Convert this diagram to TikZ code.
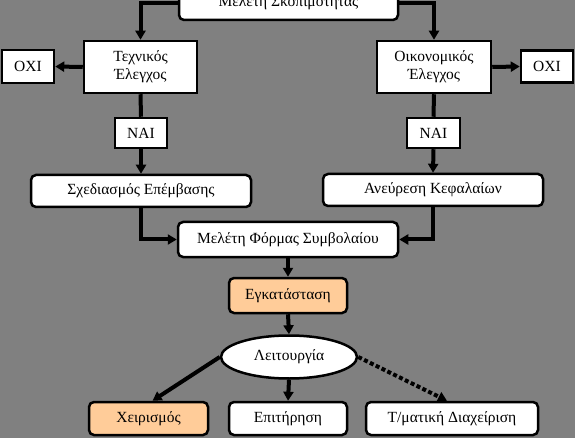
\documentclass[tikz,border=0pt]{standalone}
\usepackage{fontspec}
\setmainfont{Liberation Serif}
\usetikzlibrary{arrows.meta,shapes.geometric}
\definecolor{bggray}{RGB}{128,128,128}
\definecolor{peach}{RGB}{255,204,153}
\tikzset{
  sq/.style={draw=black, line width=2.5pt, fill=white, inner sep=0pt, align=center, font=\fontsize{15.5}{18}\selectfont},
  rnd/.style={sq, rounded corners=5pt},
  conn/.style={line width=4pt, draw=black},
  arr/.style={conn, -{Triangle[length=9pt,width=10pt]}},
}
\begin{document}
\begin{tikzpicture}[x=1pt,y=-1pt]
\fill[bggray] (0,0) rectangle (575,438);
\useasboundingbox (0,0) rectangle (575,438);

\node[rnd, minimum width=219pt, minimum height=34pt] (top) at (288.5,3) {Μελέτη Σκοπιμότητας};
\node[sq, minimum width=113pt, minimum height=52pt] (tech) at (140.5,67) {Τεχνικός\\Έλεγχος};
\node[sq, minimum width=114pt, minimum height=52pt] (oik) at (434,67) {Οικονομικός\\Έλεγχος};
\node[sq, minimum width=52pt, minimum height=33pt] (oxiL) at (28,66.5) {ΟΧΙ};
\node[sq, minimum width=52pt, minimum height=32pt] (oxiR) at (547,66.5) {ΟΧΙ};
\node[sq, minimum width=52pt, minimum height=30pt] (naiL) at (141,133) {ΝΑΙ};
\node[sq, minimum width=53pt, minimum height=30pt] (naiR) at (433.5,133) {ΝΑΙ};
\node[rnd, minimum width=220pt, minimum height=32pt] (sched) at (141,191) {Σχεδιασμός Επέμβασης};
\node[rnd, minimum width=220pt, minimum height=32pt] (anev) at (433,190) {Ανεύρεση Κεφαλαίων};
\node[rnd, minimum width=220pt, minimum height=35pt] (mel) at (288,239.5) {Μελέτη Φόρμας Συμβολαίου};
\node[rnd, fill=peach, minimum width=118pt, minimum height=35pt] (egk) at (288,295.5) {Εγκατάσταση};
\node[ellipse, draw=black, line width=2.5pt, fill=white, inner sep=0pt, minimum width=136pt, minimum height=43pt, font=\fontsize{15.5}{18}\selectfont] (lei) at (289,357) {Λειτουργία};
\node[rnd, fill=peach, minimum width=119pt, minimum height=33pt] (xeir) at (148.5,418.5) {Χειρισμός};
\node[rnd, minimum width=118pt, minimum height=33pt] (epit) at (288,418.5) {Επιτήρηση};
\node[rnd, minimum width=172pt, minimum height=33pt] (tmat) at (452,418.5) {Τ/ματική Διαχείριση};

\draw[arr] (top.west) -| (tech.north);
\draw[arr] (top.east) -| (oik.north);
\draw[arr] (tech.west) -- (oxiL.east);
\draw[arr] (oik.east) -- (oxiR.west);
\draw[conn] (tech.south) -- (naiL.north);
\draw[conn] (oik.south) -- (naiR.north);
\draw[arr] (naiL.south) -- (sched.north);
\draw[arr] (naiR.south) -- (anev.north);
\draw[arr] (sched.south) |- (mel.west);
\draw[arr] (anev.south) |- (mel.east);
\draw[arr] (mel.south) -- (egk.north);
\draw[arr] (egk.south) -- (lei.north);
\draw[arr] (lei.west) -- ([xshift=4pt]xeir.north);
\draw[arr] (lei.south) -- (epit.north);
\draw[arr, dash pattern=on 4pt off 2.5pt] (lei.east) -- ([xshift=-5pt]tmat.north);
\end{tikzpicture}
\end{document}
